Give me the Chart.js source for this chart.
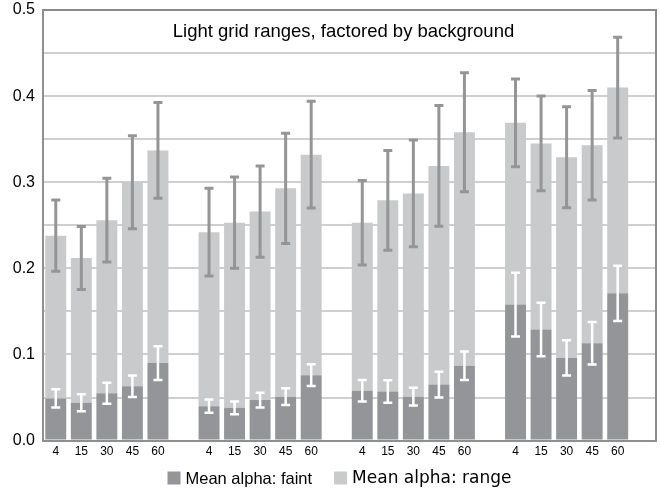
<!DOCTYPE html>
<html>
<head>
<meta charset="utf-8">
<script src="https://cdn.jsdelivr.net/npm/chart.js@4.4.1/dist/chart.umd.min.js"></script>
<style>
  html, body { margin: 0; padding: 0; background: #fff; }
  #wrap { width: 660px; height: 489px; }
</style>
</head>
<body>
<div id="wrap"><canvas id="chartContainer" width="660" height="489"></canvas></div>
<script>
// bar labels inside each background group
const durations = ['4', '15', '30', '45', '60'];

// one row per background group
const faintMeans = [
    [0.049, 0.044, 0.055, 0.063, 0.090],
    [0.040, 0.038, 0.047, 0.051, 0.076],
    [0.058, 0.057, 0.051, 0.065, 0.087],
    [0.158, 0.129, 0.096, 0.113, 0.171]
];
const rangeMeans = [
    [0.189, 0.168, 0.201, 0.237, 0.247],
    [0.202, 0.215, 0.219, 0.242, 0.256],
    [0.195, 0.222, 0.236, 0.254, 0.271],
    [0.211, 0.216, 0.233, 0.230, 0.239]
];
// error bar half lengths
const faintErr = [
    [0.0105, 0.0098, 0.0123, 0.0125, 0.0195],
    [0.0076, 0.0075, 0.0085, 0.0098, 0.0127],
    [0.0125, 0.0130, 0.0103, 0.0150, 0.0166],
    [0.0370, 0.0310, 0.0204, 0.0247, 0.0320]
];
const totalErr = [
    [0.0415, 0.0365, 0.0485, 0.0540, 0.0555],
    [0.0510, 0.0530, 0.0530, 0.0640, 0.0620],
    [0.0490, 0.0580, 0.0620, 0.0700, 0.0690],
    [0.0510, 0.0550, 0.0587, 0.0635, 0.0585]
];

const chartTitle = 'Light grid ranges, factored by background';
const seriesNames = ['Mean alpha: faint', 'Mean alpha: range'];

// flatten groups, with an empty slot after each group
function flatten(rows) {
    const out = [];
    rows.forEach(row => {
        row.forEach(v => out.push(v));
        out.push(null);
    });
    return out;
}

const labels = [];
faintMeans.forEach(() => {
    durations.forEach(d => labels.push(d));
    labels.push('');
});

const faintData = flatten(faintMeans);
const rangeData = flatten(rangeMeans);
const faintErrData = flatten(faintErr);
const totalErrData = flatten(totalErr);

const DARK = '#939598';
const LIGHT = '#c9cacc';

function drawErr(ctx, x, yTop, yBot, color, width) {
    const cap = 4.5;
    ctx.strokeStyle = color;
    ctx.lineWidth = width;
    ctx.beginPath();
    ctx.moveTo(x, yTop);
    ctx.lineTo(x, yBot);
    ctx.moveTo(x - cap, yTop);
    ctx.lineTo(x + cap, yTop);
    ctx.moveTo(x - cap, yBot);
    ctx.lineTo(x + cap, yBot);
    ctx.stroke();
}

const errorBars = {
    id: 'errorBars',
    afterDatasetsDraw(chart) {
        const ctx = chart.ctx;
        const y = chart.scales.y;
        const faintMeta = chart.getDatasetMeta(0);
        ctx.save();
        faintData.forEach((v, i) => {
            if (v === null) return;
            const x = faintMeta.data[i].x;
            // grey bars round the stacked total
            const total = v + rangeData[i];
            drawErr(ctx, x, y.getPixelForValue(total + totalErrData[i]),
                y.getPixelForValue(total - totalErrData[i]), '#959595', 3);
            // white bars round the faint part
            drawErr(ctx, x, y.getPixelForValue(v + faintErrData[i]),
                y.getPixelForValue(v - faintErrData[i]), '#ffffff', 2.5);
        });
        ctx.restore();
    }
};

const frameAndText = {
    id: 'frameAndText',
    beforeDatasetsDraw(chart) {
        const a = chart.chartArea;
        const ctx = chart.ctx;
        ctx.save();
        ctx.strokeStyle = '#8a8a8a';
        ctx.lineWidth = 2;
        ctx.beginPath();
        ctx.moveTo(a.left, a.top);
        ctx.lineTo(a.right, a.top);
        ctx.lineTo(a.right, a.bottom);
        ctx.stroke();
        ctx.restore();
    },
    afterDraw(chart) {
        const a = chart.chartArea;
        const ctx = chart.ctx;
        ctx.save();
        // title sits inside the plot
        ctx.fillStyle = '#000';
        ctx.font = '18.5px "Liberation Sans", Arial, sans-serif';
        ctx.textAlign = 'center';
        ctx.textBaseline = 'middle';
        ctx.fillText(chartTitle, (a.left + a.right) / 2 - 6, a.top + 22);

        // legend, each entry in its own face
        const fonts = ['16.5px "Liberation Sans", Arial, sans-serif', '17px "DejaVu Sans", Verdana, sans-serif'];
        const colors = [DARK, LIGHT];
        const box = 13, gap = 5, between = 22;
        let total = 0;
        const widths = seriesNames.map((t, i) => {
            ctx.font = fonts[i];
            return ctx.measureText(t).width;
        });
        widths.forEach(w => { total += box + gap + w; });
        total += between;
        let x = (a.left + a.right) / 2 - 10 - total / 2;
        const yMid = chart.height - 11;
        ctx.textAlign = 'left';
        seriesNames.forEach((t, i) => {
            ctx.fillStyle = colors[i];
            ctx.fillRect(x, yMid - box / 2, box, box);
            ctx.fillStyle = '#000';
            ctx.font = fonts[i];
            ctx.fillText(t, x + box + gap, yMid + 1);
            x += box + gap + widths[i] + between;
        });
        ctx.restore();
    }
};

const ctx = document.getElementById('chartContainer').getContext('2d');
const chart = new Chart(ctx, {
    type: 'bar',
    data: {
        labels: labels,
        datasets: [{
            label: seriesNames[0],
            data: faintData,
            backgroundColor: DARK,
            barPercentage: 0.82,
            categoryPercentage: 1
        }, {
            label: seriesNames[1],
            data: rangeData,
            backgroundColor: LIGHT,
            barPercentage: 0.82,
            categoryPercentage: 1
        }]
    },
    options: {
        responsive: false,
        animation: false,
        layout: { padding: { top: 10, right: 4, left: 0, bottom: 26 } },
        plugins: {
            legend: { display: false },
            title: { display: false },
            tooltip: { enabled: false }
        },
        scales: {
            x: {
                stacked: true,
                grid: { display: false, drawTicks: false },
                border: { color: '#8f8f8f', width: 2 },
                ticks: {
                    color: '#000',
                    font: { family: '"Liberation Sans", Arial, sans-serif', size: 12 },
                    padding: 4,
                    maxRotation: 0,
                    autoSkip: false
                }
            },
            y: {
                stacked: true,
                min: 0,
                max: 0.5,
                afterFit(scale) {
                    scale.width = 43;
                    scale.paddingTop = 0;
                    scale.paddingBottom = 0;
                },
                grid: { color: '#cfcfcf', lineWidth: 2, drawTicks: false },
                border: { color: '#8f8f8f', width: 2 },
                ticks: {
                    stepSize: 0.05,
                    color: '#000',
                    padding: 8,
                    font: { family: '"Liberation Sans", Arial, sans-serif', size: 16 },
                    callback: function (value) {
                        const k = Math.round(value * 100);
                        return k % 10 === 0 ? (k / 100).toFixed(1) : '';
                    }
                }
            }
        }
    },
    plugins: [frameAndText, errorBars]
});
</script>
</body>
</html>
